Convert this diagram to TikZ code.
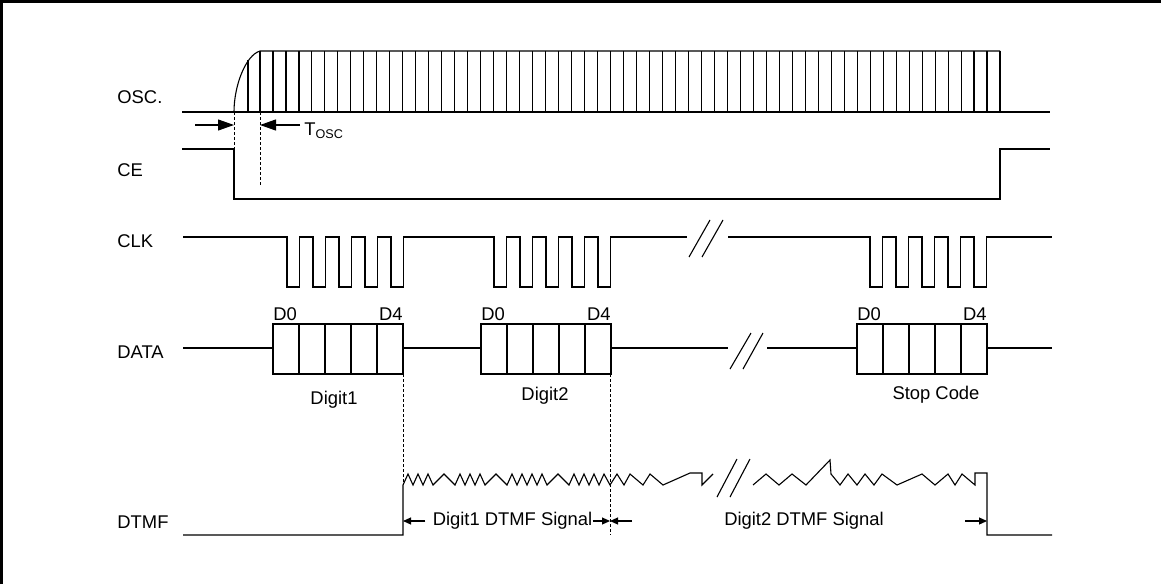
\documentclass[tikz,border=0pt]{standalone}
\usepackage{fontspec}
\setmainfont{Liberation Sans}
\usetikzlibrary{arrows.meta}

\tikzset{
	wave/.style={line width=0.55pt, line join=miter},
	guide/.style={line width=0.45pt, dash pattern=on 1.5pt off 1pt},
	lbl/.style={inner sep=0pt, font=\fontsize{9.2}{11}\selectfont},
	bigtip/.style={line width=0.55pt, -{Triangle[length=8pt,width=5.5pt]}},
	smalltip/.style={line width=0.55pt, -{Triangle[length=4pt,width=3.5pt]}},
}

\begin{document}
\begin{tikzpicture}[x=0.5pt, y=-0.5pt]

			\useasboundingbox (0,0) rectangle (1161,584);
			\draw [line width=1.4pt] (1.4,584) -- (1.4,1.4) -- (1161,1.4);

			\node[lbl, anchor=west] (osc) at (117,97) {OSC.};
			\node[lbl, anchor=west] (ce) at (117,170) {CE};
			\node[lbl, anchor=west] (clk) at (117,241) {CLK};
			\node[lbl, anchor=west] (data) at (117,352) {DATA};
			\node[lbl, anchor=west] (dtmf) at (117,522) {DTMF};

			\draw [wave] (182,112) -- (1050,112);
			\draw [wave] (234,112) .. controls (234,85) and (246,55) .. (260,51) -- (1000,51);
			\draw [wave] (248,60) -- (248,112);
			\foreach \k in {0,...,57}
				\draw [wave] ({260+740/57*\k},51) -- ++(0,61);

			\draw [wave] (182,149) -- (234,149) -- (234,199) -- (1000,199) -- (1000,149) -- (1050,149);
			\draw [guide] (234,112) -- (234,149);
			\draw [guide] (260,112) -- (260,187);

			\coordinate (oscon) at (234,125);
			\coordinate (oscok) at (260,125);
			\coordinate (oscin) at (195,125);
			\coordinate (oscout) at (300,125);
			\draw [bigtip] (oscin) -- (oscon);
			\draw [bigtip] (oscout) -- (oscok);
			\node[lbl, anchor=base west] (tosc) at (304,135) {T\raisebox{-1.5pt}{\fontsize{6.3}{7}\selectfont OSC}};

			\draw [wave] (183,237) \foreach \s in {287,494} {\foreach \k in {0,...,4} { -- ({\s+26*\k},237) -- ++(0,50) -- ++(12.5,0) -- ++(0,-50)}} -- (687,237);
			\draw [wave] (728,237) \foreach \k in {0,...,4} { -- ({870+26*\k},237) -- ++(0,50) -- ++(12.5,0) -- ++(0,-50)} -- (1052,237);
			\draw [wave] (689,257) -- (710,220);
			\draw [wave] (702,257) -- (723,220);

			\draw [wave] (183,348) -- (273,348);
			\draw [wave] (403,348) -- (481,348);
			\draw [wave] (610,348) -- (728,348);
			\draw [wave] (767,348) -- (857,348);
			\draw [wave] (987,348) -- (1052,348);
			\draw [wave] (730,369) -- (751,333);
			\draw [wave] (743,369) -- (763,333);
			\foreach \b in {273,481,857} {
				\draw [wave] (\b,324) rectangle ++(130,50);
				\foreach \k in {1,...,4}
					\draw [wave] ({\b+26*\k},324) -- ++(0,50);
			}

			\node[lbl, anchor=base west] (dzeroa) at (273,320) {D0};
			\node[lbl, anchor=base east] (dfoura) at (403,320) {D4};
			\node[lbl, anchor=base west] (dzerob) at (481,320) {D0};
			\node[lbl, anchor=base east] (dfourb) at (611,320) {D4};
			\node[lbl, anchor=base west] (dzeroc) at (857,320) {D0};
			\node[lbl, anchor=base east] (dfourc) at (987,320) {D4};

			\node[lbl] (digita) at (334,400) {Digit1};
			\node[lbl] (digitb) at (545,396) {Digit2};
			\node[lbl] (stopcode) at (936,395) {Stop Code};

			\draw [guide] (403,374) -- (403,485);
			\draw [guide] (610,374) -- (610,535);

			\draw [wave] (183,535) -- (403,535) -- (403,485) \foreach \x/\y in {408/474, 413/485, 418/474, 423/485, 428/474, 433/485, 444/474, 455/485, 460/474, 465/485, 470/474, 475/485, 480/474, 485/485, 496/474, 507/485, 512/474, 517/485, 522/474, 527/485, 532/474, 537/485, 542/474, 547/485, 558/474, 569/485, 574/474, 579/485, 584/474, 589/485, 594/474, 599/485, 604/474, 610/485, 617/474, 624/485, 630/474, 643/485, 650/474, 663/485, 690/473, 702/473, 702/485, 713/474} { -- (\x,\y)};
			\draw [wave] (717,497) -- (737,459);
			\draw [wave] (730,497) -- (750,459);
			\draw [wave] (753,485) \foreach \x/\y in {766/474, 779/485, 792/474, 806/485, 830/460, 831/474, 840/485, 848/474, 857/485, 865/474, 874/485, 882/474, 897/485, 922/474, 935/485, 948/474, 955/485, 962/474, 975/485, 975/473, 987/473, 987/535, 1052/535} { -- (\x,\y)};

			\coordinate (sigastart) at (403,521);
			\coordinate (sigaend) at (610,521);
			\coordinate (sigbstart) at (632,521);
			\coordinate (sigbtail) at (965,521);
			\coordinate (sigbend) at (987,521);
			\node[lbl] (siga) at (512.5,521) {Digit1 DTMF Signal};
			\node[lbl] (sigb) at (804,521) {Digit2 DTMF Signal};
			\draw [smalltip, shorten <=3.5pt] (siga.west |- sigastart) -- (sigastart);
			\draw [smalltip] (siga.east |- sigaend) -- (sigaend);
			\draw [smalltip] (sigbstart) -- (sigaend);
			\draw [smalltip] (sigbtail) -- (sigbend);

	\end{tikzpicture}
\end{document}
